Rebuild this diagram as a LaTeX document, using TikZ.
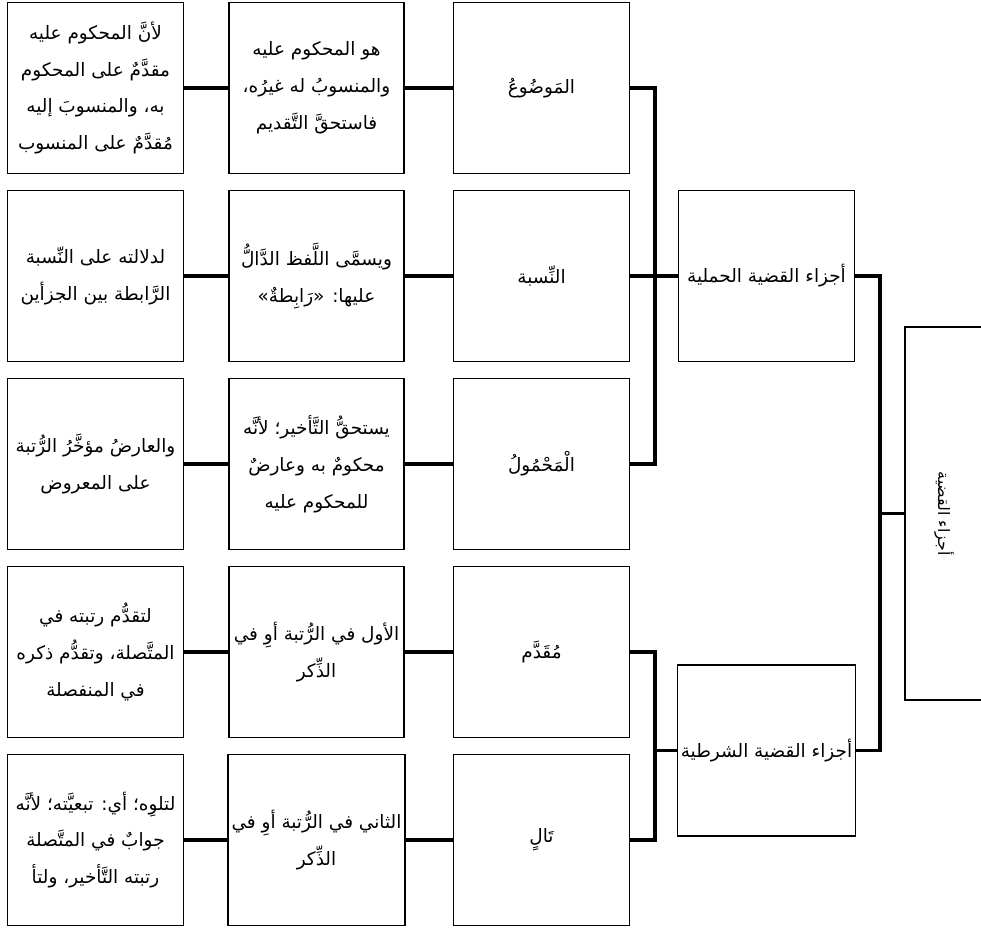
\documentclass[tikz,border=0pt]{standalone}
\usepackage{fontspec}
\usepackage{graphicx}
\newfontfamily\arabicfont[Script=Arabic]{DejaVu Sans}
\TeXXeTstate=1
\newcommand{\artext}[1]{\beginR #1\endR}

\begin{document}
\begin{tikzpicture}[
  every node/.style = {font=\arabicfont\fontsize{10.5}{21}\selectfont},
  cell/.style = {draw, line width=0.7pt, align=center, minimum width=3.52cm, minimum height=3.42cm, inner sep=2pt},
  link/.style = {line width=2.2pt}
]
  \useasboundingbox (0,0) rectangle (19.62,18.58);

  \node[cell] (mawd-why) at (1.91,16.82) {\artext{لأنَّ المحكوم عليه}\\\artext{مقدَّمٌ على المحكوم}\\\artext{به، والمنسوبَ إليه}\\\artext{مُقدَّمٌ على المنسوب}};
  \node[cell, minimum width=3.5cm] (mawd-def) at (6.33,16.82) {\artext{هو المحكوم عليه}\\\artext{والمنسوبُ له غيرُه،}\\\artext{فاستحقَّ التَّقديم}};
  \node[cell] (mawd) at (10.83,16.82) {\artext{المَوضُوعُ}};

  \node[cell] (nisb-why) at (1.91,13.06) {\artext{لدلالته على النِّسبة}\\\artext{الرَّابطة بين الجزأين}};
  \node[cell, minimum width=3.5cm] (nisb-def) at (6.33,13.06) {\artext{ويسمَّى اللَّفظ الدَّالُّ}\\\artext{عليها: «رَابِطةٌ»}};
  \node[cell] (nisb) at (10.83,13.06) {\artext{النِّسبة}};

  \node[cell] (mahm-why) at (1.91,9.30) {\artext{والعارضُ مؤخَّرُ الرُّتبة}\\\artext{على المعروض}};
  \node[cell, minimum width=3.5cm] (mahm-def) at (6.33,9.30) {\artext{يستحقُّ التَّأخير؛ لأنَّه}\\\artext{محكومٌ به وعارضٌ}\\\artext{للمحكوم عليه}};
  \node[cell] (mahm) at (10.83,9.30) {\artext{الْمَحْمُولُ}};

  \node[cell] (muqd-why) at (1.91,5.54) {\artext{لتقدُّم رتبته في}\\\artext{المتَّصلة، وتقدُّم ذكره}\\\artext{في المنفصلة}};
  \node[cell, minimum width=3.5cm] (muqd-def) at (6.33,5.54) {\artext{الأول في الرُّتبة أوِ في}\\\artext{الذِّكر}};
  \node[cell] (muqd) at (10.83,5.54) {\artext{مُقَدَّم}};

  \node[cell] (tal-why) at (1.91,1.78) {\artext{لتلوِه؛ أي: تبعيَّته؛ لأنَّه}\\\artext{جوابٌ في المتَّصلة}\\\artext{رتبته التَّأخير، ولتأ}};
  \node[cell, minimum width=3.5cm] (tal-def) at (6.33,1.78) {\artext{الثاني في الرُّتبة أوِ في}\\\artext{الذِّكر}};
  \node[cell] (tal) at (10.83,1.78) {\artext{تَالٍ}};

  \node[cell] (hamli) at (15.33,13.06) {\artext{أجزاء القضية الحملية}};
  \node[cell] (shart) at (15.33,3.57) {\artext{أجزاء القضية الشرطية}};
  \node[cell, minimum width=1.56cm, minimum height=7.46cm] (root) at (18.88,8.31) {\rotatebox{-90}{\fontsize{9}{10}\selectfont\artext{أجزاء القضية}}};

  \draw[link] (mawd-why) -- (mawd-def);
  \draw[link] (mawd-def) -- (mawd);
  \draw[link] (nisb-why) -- (nisb-def);
  \draw[link] (nisb-def) -- (nisb);
  \draw[link] (mahm-why) -- (mahm-def);
  \draw[link] (mahm-def) -- (mahm);
  \draw[link] (muqd-why) -- (muqd-def);
  \draw[link] (muqd-def) -- (muqd);
  \draw[link] (tal-why) -- (tal-def);
  \draw[link] (tal-def) -- (tal);

  \draw[link] (mawd.east) -- ++(0.5,0) coordinate (brkA) |- (mahm.east);
  \draw[link] (nisb) -- (hamli);
  \draw[link] (muqd.east) -- ++(0.5,0) coordinate (brkB) |- (tal.east);
  \draw[link] (shart.west) -- (shart.west -| brkB);
  \draw[link] (hamli.east) -- ++(0.5,0) coordinate (brkC) |- (shart.east);
  \draw[link] (root.west) -- (root.west -| brkC);
\end{tikzpicture}
\end{document}
